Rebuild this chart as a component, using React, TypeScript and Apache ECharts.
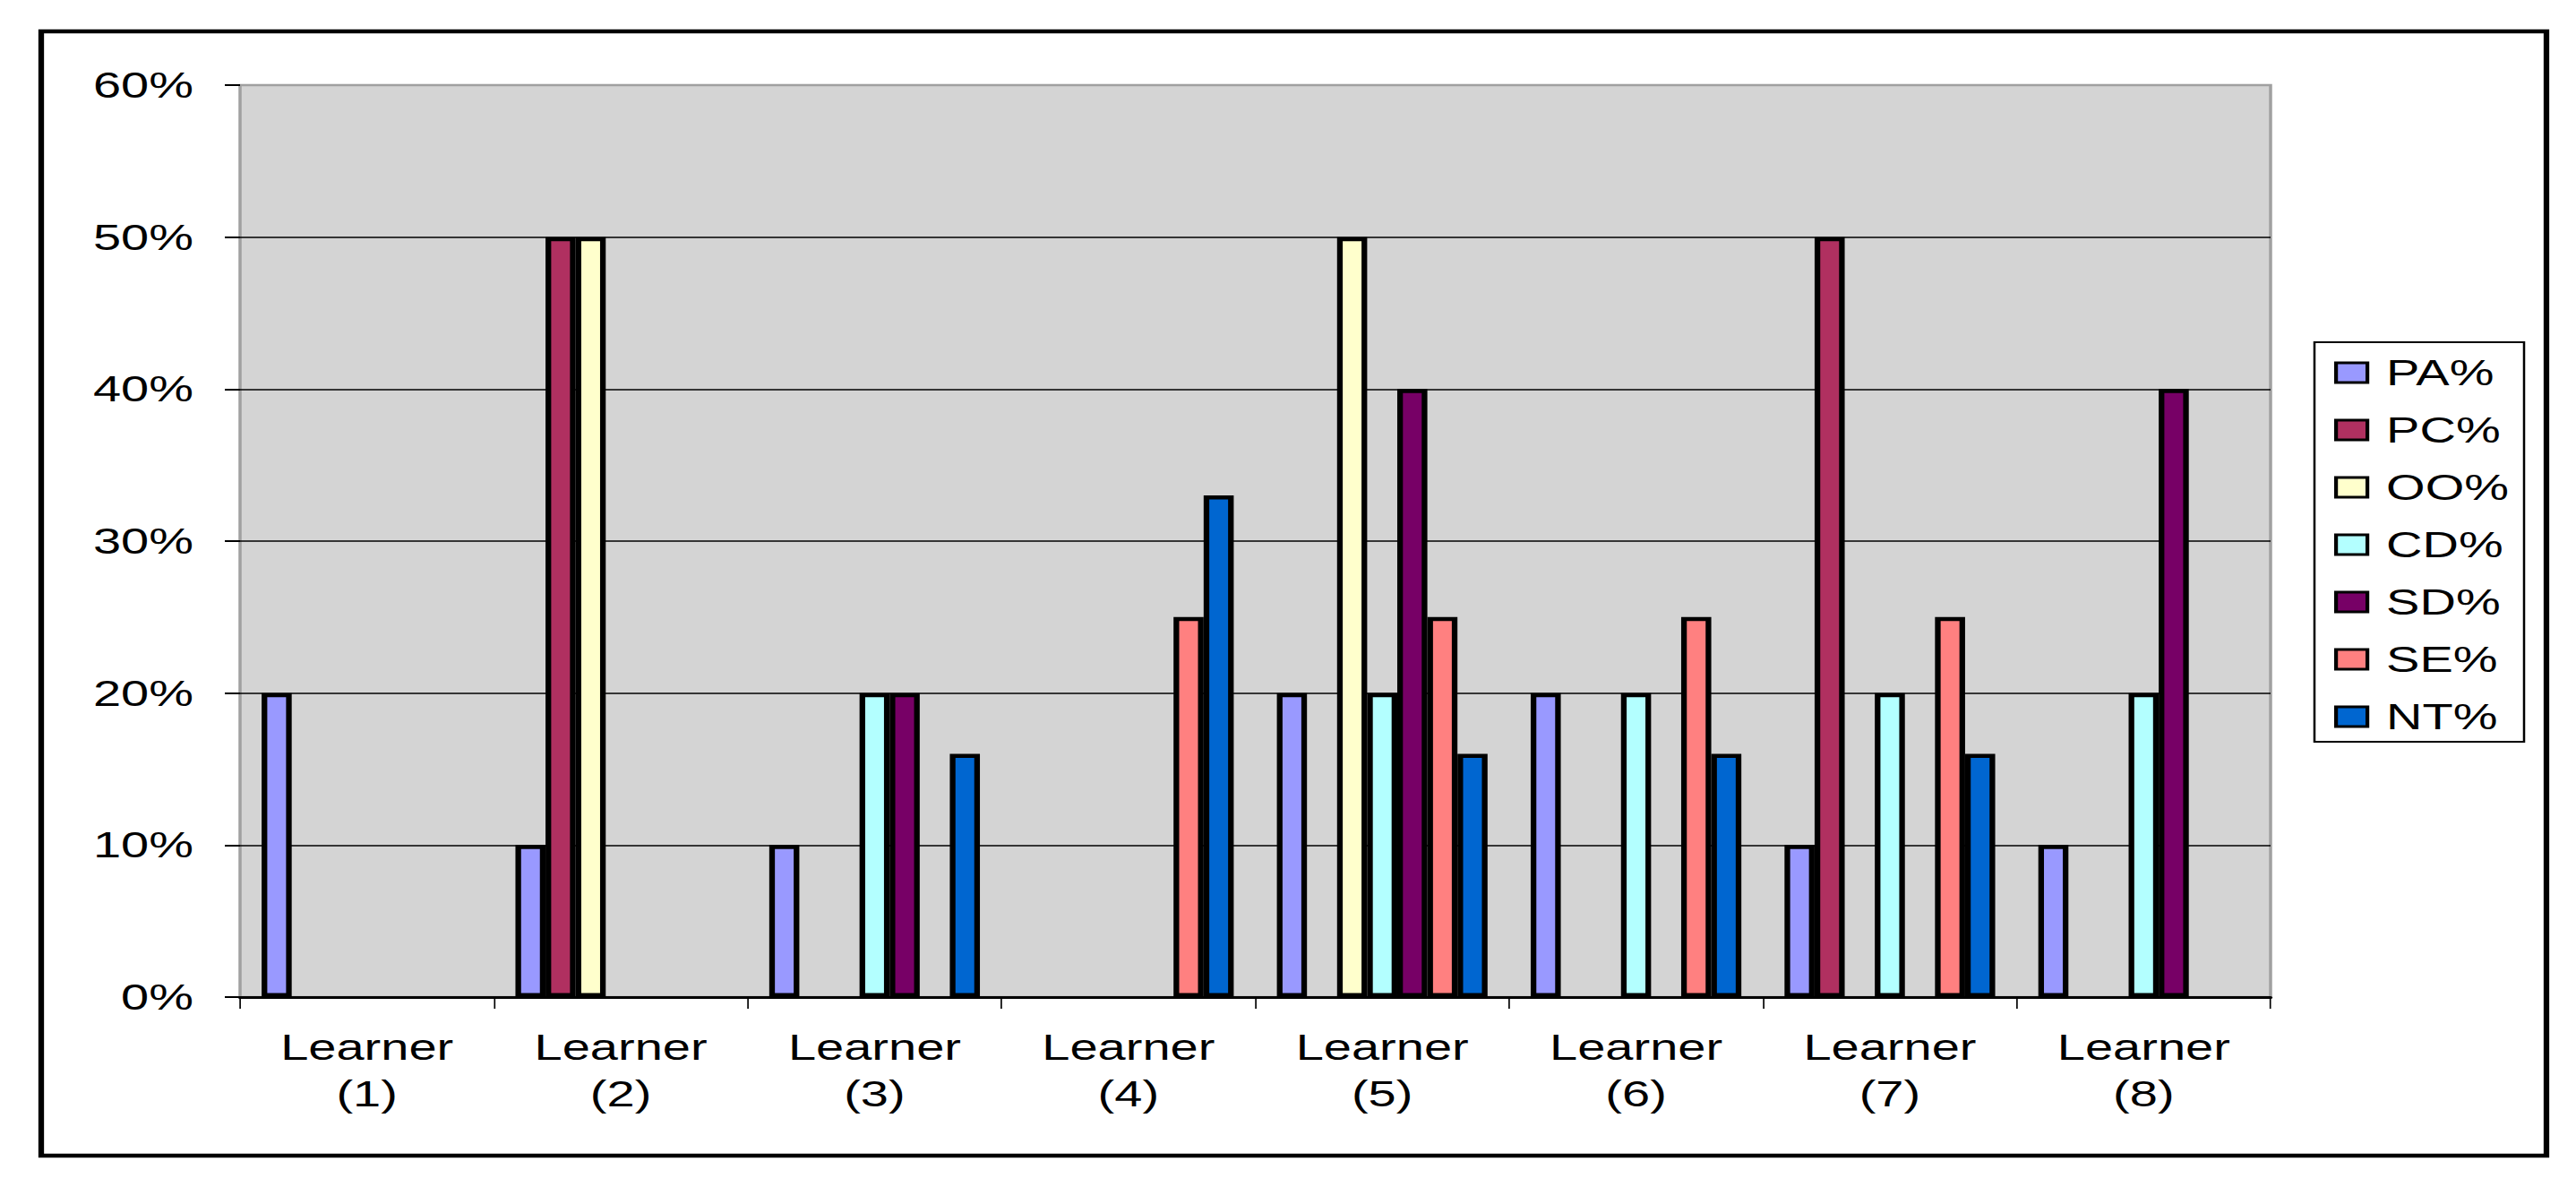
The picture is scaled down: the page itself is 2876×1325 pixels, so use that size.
import React, { useEffect, useRef } from "react";
import * as echarts from "echarts";

const categories = [
  "Learner (1)",
  "Learner (2)",
  "Learner (3)",
  "Learner (4)",
  "Learner (5)",
  "Learner (6)",
  "Learner (7)",
  "Learner (8)",
];
const seriesNames = ["PA%", "PC%", "OO%", "CD%", "SD%", "SE%", "NT%"];
const PA = [20, 10, 10, 0, 20, 20, 10, 10];
const PC = [0, 50, 0, 0, 0, 0, 50, 0];
const OO = [0, 50, 0, 0, 50, 0, 0, 0];
const CD = [0, 0, 20, 0, 20, 20, 20, 20];
const SD = [0, 0, 20, 0, 40, 0, 0, 40];
const SE = [0, 0, 0, 25, 25, 25, 25, 0];
const NT = [0, 0, 16, 33, 16, 16, 16, 0];
const seriesValues = [PA, PC, OO, CD, SD, SE, NT];
const seriesColors = ["#9999FF", "#B03060", "#FFFFCC", "#B3FFFF", "#770066", "#FF8080", "#0066D0"];
const yMin = 0;
const yMax = 60;
const yStep = 10;

const FONT = "Liberation Sans";
// The reference image is horizontally stretched; draw at a narrower width and stretch.
const SX = 1.4;
const PAGE_W = 2876;
const PAGE_H = 1325;
const X = (v: number) => v / SX;

export default function App() {
  const ref = useRef<HTMLDivElement>(null);
  useEffect(() => {
    if (!ref.current) return;
    const chart = echarts.init(ref.current, null, { renderer: "svg" });
    const option: any = {
      animation: false,
      backgroundColor: "#ffffff",
      textStyle: { fontFamily: FONT, color: "#000" },
      graphic: [
        {
          type: "rect",
          z: -1,
          shape: { x: X(46), y: 35, width: X(2797), height: 1255 },
          style: { fill: "none", stroke: "#000", lineWidth: 4.5 },
        },
        {
          type: "rect",
          z: 1,
          shape: { x: X(2584), y: 382, width: X(234), height: 446 },
          style: { fill: "#fff", stroke: "#000", lineWidth: 1.8 },
        },
      ],
      grid: {
        left: X(268),
        top: 95,
        width: X(2267),
        height: 1018,
        show: true,
        backgroundColor: "#D4D4D4",
        borderColor: "#A0A0A0",
        borderWidth: 2.5,
      },
      legend: {
        orient: "vertical",
        left: X(2606),
        top: 396,
        padding: 0,
        itemWidth: X(35),
        itemHeight: 22,
        itemGap: 24,
        icon: "rect",
        z: 5,
        itemStyle: { borderColor: "#000", borderWidth: 3 },
        textStyle: {
          fontFamily: FONT,
          fontSize: 40,
          color: "#000",
          lineHeight: 40,
          padding: [0, 0, 0, X(2662) - X(2606) - X(35) - 5],
        },
        data: seriesNames,
      },
      xAxis: {
        type: "category",
        data: categories,
        axisLine: { show: true, lineStyle: { color: "#000", width: 3 } },
        axisTick: { show: true, length: 13, lineStyle: { color: "#000", width: 1.2 } },
        axisLabel: {
          interval: 0,
          fontFamily: FONT,
          fontSize: 40,
          color: "#000",
          lineHeight: 52,
          margin: 30,
          formatter: (v: string) => v.replace(" ", "\n"),
        },
      },
      yAxis: {
        type: "value",
        min: yMin,
        max: yMax,
        interval: yStep,
        axisLine: { show: false },
        axisTick: { show: true, length: X(17), lineStyle: { color: "#000", width: 2 } },
        splitLine: { show: true, showMaxLine: false, lineStyle: { color: "#000", width: 1.5 } },
        axisLabel: {
          fontFamily: FONT,
          fontSize: 40,
          color: "#000",
          margin: X(52),
          formatter: "{value}%",
        },
      },
      series: seriesNames.map((name, i) => ({
        name,
        type: "bar",
        barGap: "0%",
        barCategoryGap: "17%",
        data: seriesValues[i].map((v) => (v === 0 ? null : v)),
        itemStyle: { color: seriesColors[i], borderColor: "#000", borderWidth: 4.5 },
      })),
    };
    chart.setOption(option);
    return () => chart.dispose();
  }, []);
  return (
    <div
      style={{
        position: "absolute",
        left: 0,
        top: 0,
        width: PAGE_W,
        height: PAGE_H,
        background: "#fff",
        overflow: "hidden",
      }}
    >
      <div
        ref={ref}
        style={{
          width: PAGE_W / SX,
          height: PAGE_H,
          transform: `scaleX(${SX})`,
          transformOrigin: "0 0",
        }}
      />
    </div>
  );
}
